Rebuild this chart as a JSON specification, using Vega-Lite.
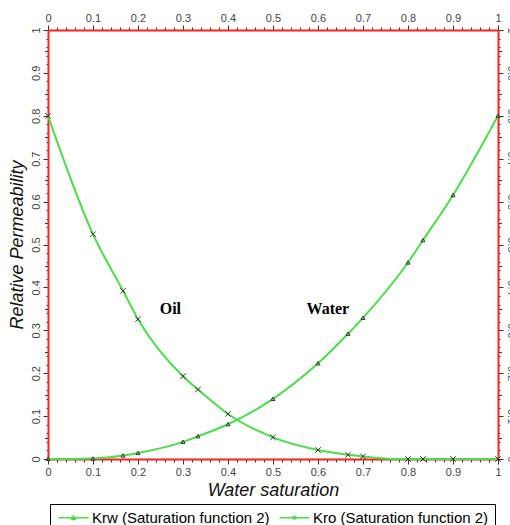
{
  "$schema": "https://vega.github.io/schema/vega-lite/v6.json",
  "width": 450,
  "height": 429,
  "autosize": {"type": "none"},
  "padding": {"left": 48, "top": 30, "right": 12, "bottom": 66},
  "background": "white",
  "datasets": {
    "kr": [
      {"sw": 0, "series": "Krw (Saturation function 2)", "kr": 0},
      {"sw": 0.05, "series": "Krw (Saturation function 2)", "kr": 0},
      {"sw": 0.1, "series": "Krw (Saturation function 2)", "kr": 0.001},
      {"sw": 0.1667, "series": "Krw (Saturation function 2)", "kr": 0.008},
      {"sw": 0.2, "series": "Krw (Saturation function 2)", "kr": 0.014},
      {"sw": 0.3, "series": "Krw (Saturation function 2)", "kr": 0.04},
      {"sw": 0.3333, "series": "Krw (Saturation function 2)", "kr": 0.053},
      {"sw": 0.4, "series": "Krw (Saturation function 2)", "kr": 0.081},
      {"sw": 0.5, "series": "Krw (Saturation function 2)", "kr": 0.14},
      {"sw": 0.6, "series": "Krw (Saturation function 2)", "kr": 0.223},
      {"sw": 0.6667, "series": "Krw (Saturation function 2)", "kr": 0.292},
      {"sw": 0.7, "series": "Krw (Saturation function 2)", "kr": 0.329},
      {"sw": 0.8, "series": "Krw (Saturation function 2)", "kr": 0.458},
      {"sw": 0.8333, "series": "Krw (Saturation function 2)", "kr": 0.51},
      {"sw": 0.9, "series": "Krw (Saturation function 2)", "kr": 0.615},
      {"sw": 1, "series": "Krw (Saturation function 2)", "kr": 0.8},
      {"sw": 0, "series": "Kro (Saturation function 2)", "kr": 0.8},
      {"sw": 0.1, "series": "Kro (Saturation function 2)", "kr": 0.524},
      {"sw": 0.1667, "series": "Kro (Saturation function 2)", "kr": 0.392},
      {"sw": 0.2, "series": "Kro (Saturation function 2)", "kr": 0.326},
      {"sw": 0.3, "series": "Kro (Saturation function 2)", "kr": 0.193},
      {"sw": 0.3333, "series": "Kro (Saturation function 2)", "kr": 0.162},
      {"sw": 0.4, "series": "Kro (Saturation function 2)", "kr": 0.105},
      {"sw": 0.5, "series": "Kro (Saturation function 2)", "kr": 0.0505},
      {"sw": 0.6, "series": "Kro (Saturation function 2)", "kr": 0.021},
      {"sw": 0.6667, "series": "Kro (Saturation function 2)", "kr": 0.01},
      {"sw": 0.7, "series": "Kro (Saturation function 2)", "kr": 0.006},
      {"sw": 0.775, "series": "Kro (Saturation function 2)", "kr": 0},
      {"sw": 0.8, "series": "Kro (Saturation function 2)", "kr": 0},
      {"sw": 0.8333, "series": "Kro (Saturation function 2)", "kr": 0},
      {"sw": 0.9, "series": "Kro (Saturation function 2)", "kr": 0},
      {"sw": 1, "series": "Kro (Saturation function 2)", "kr": 0}
    ],
    "notes": [
      {"sw": 0.272, "kr": 0.349, "label": "Oil"},
      {"sw": 0.622, "kr": 0.349, "label": "Water"}
    ]
  },
  "resolve": {"axis": {"x": "independent", "y": "independent"}},
  "layer": [
    {
      "data": {"name": "kr"},
      "mark": {"type": "line", "interpolate": "monotone", "strokeWidth": 2},
      "encoding": {
        "x": {
          "field": "sw", "type": "quantitative",
          "scale": {"domain": [0, 1], "nice": false, "zero": false},
          "axis": {
            "orient": "bottom",
            "title": "Water saturation",
            "values": [0,0.02,0.04,0.06,0.08,0.1,0.12,0.14,0.16,0.18,0.2,0.22,0.24,0.26,0.28,0.3,0.32,0.34,0.36,0.38,0.4,0.42,0.44,0.46,0.48,0.5,0.52,0.54,0.56,0.58,0.6,0.62,0.64,0.66,0.68,0.7,0.72,0.74,0.76,0.78,0.8,0.82,0.84,0.86,0.88,0.9,0.92,0.94,0.96,0.98,1],
            "tickSize": {"condition": {"test": "abs(datum.value*10-round(datum.value*10))<0.001", "value": 5}, "value": 3},
            "labelExpr": "abs(datum.value*10-round(datum.value*10))<0.001 ? format(datum.value, '~g') : ''",
            "titlePadding": 4
          }
        },
        "y": {
          "field": "kr", "type": "quantitative",
          "scale": {"domain": [0, 1], "nice": false},
          "axis": {
            "orient": "left",
            "title": "Relative Permeability",
            "labelAngle": -90,
            "values": [0,0.02,0.04,0.05,0.06,0.08,0.1,0.12,0.14,0.15,0.16,0.18,0.2,0.22,0.24,0.25,0.26,0.28,0.3,0.32,0.34,0.35,0.36,0.38,0.4,0.42,0.44,0.45,0.46,0.48,0.5,0.52,0.54,0.55,0.56,0.58,0.6,0.62,0.64,0.65,0.66,0.68,0.7,0.72,0.74,0.75,0.76,0.78,0.8,0.82,0.84,0.85,0.86,0.88,0.9,0.92,0.94,0.95,0.96,0.98,1],
            "tickSize": {"condition": [{"test": "abs(datum.value*10-round(datum.value*10))<0.001", "value": 5}, {"test": "abs(datum.value*20-round(datum.value*20))<0.001", "value": 3.5}], "value": 2},
            "labelExpr": "abs(datum.value*10-round(datum.value*10))<0.001 ? format(datum.value, '~g') : ''",
            "titlePadding": 4
          }
        },
        "color": {
          "field": "series", "type": "nominal",
          "scale": {"domain": ["Krw (Saturation function 2)", "Kro (Saturation function 2)"], "range": ["#4cdc4c", "#4cdc4c"]},
          "legend": {
            "orient": "none", "legendX": 2, "legendY": 474,
            "direction": "horizontal", "title": null,
            "strokeColor": "black", "padding": 6,
            "labelFont": "Liberation Sans", "labelFontSize": 15, "labelColor": "black", "labelLimit": 300,
            "symbolSize": 100, "symbolStrokeWidth": 1.5, "labelOffset": 21, "columnPadding": 6,
            "symbolType": "M-1,0H5",
            "encode": {
              "symbols": {
                "update": {
                  "shape": {"signal": "datum.value === 'Krw (Saturation function 2)' ? 'M-1,0H5M1.6,0.35L2,-0.35L2.4,0.35Z' : 'M-1,0H5M1.65,-0.35L2.35,0.35M1.65,0.35L2.35,-0.35'"},
                  "fill": {"value": "#333"}
                }
              }
            }
          }
        }
      }
    },
    {
      "data": {"name": "kr"},
      "transform": [{"filter": "datum.series === 'Krw (Saturation function 2)' && datum.sw !== 0.05"}],
      "mark": {"type": "point", "shape": "M-1,0.8L0,-0.9L1,0.8Z", "size": 16, "filled": false, "stroke": "#333", "strokeWidth": 1, "opacity": 1},
      "encoding": {
        "x": {
          "field": "sw", "type": "quantitative",
          "scale": {"domain": [0, 1], "nice": false, "zero": false},
          "axis": {
            "orient": "top",
            "title": null,
            "values": [0,0.02,0.04,0.06,0.08,0.1,0.12,0.14,0.16,0.18,0.2,0.22,0.24,0.26,0.28,0.3,0.32,0.34,0.36,0.38,0.4,0.42,0.44,0.46,0.48,0.5,0.52,0.54,0.56,0.58,0.6,0.62,0.64,0.66,0.68,0.7,0.72,0.74,0.76,0.78,0.8,0.82,0.84,0.86,0.88,0.9,0.92,0.94,0.96,0.98,1],
            "tickSize": {"condition": {"test": "abs(datum.value*10-round(datum.value*10))<0.001", "value": 5}, "value": 3},
            "labelExpr": "abs(datum.value*10-round(datum.value*10))<0.001 ? format(datum.value, '~g') : ''"
          }
        },
        "y": {
          "field": "kr", "type": "quantitative",
          "scale": {"domain": [0, 1], "nice": false},
          "axis": {
            "orient": "right",
            "title": null,
            "labelAngle": 90,
            "values": [0,0.02,0.04,0.05,0.06,0.08,0.1,0.12,0.14,0.15,0.16,0.18,0.2,0.22,0.24,0.25,0.26,0.28,0.3,0.32,0.34,0.35,0.36,0.38,0.4,0.42,0.44,0.45,0.46,0.48,0.5,0.52,0.54,0.55,0.56,0.58,0.6,0.62,0.64,0.65,0.66,0.68,0.7,0.72,0.74,0.75,0.76,0.78,0.8,0.82,0.84,0.85,0.86,0.88,0.9,0.92,0.94,0.95,0.96,0.98,1],
            "tickSize": {"condition": [{"test": "abs(datum.value*10-round(datum.value*10))<0.001", "value": 5}, {"test": "abs(datum.value*20-round(datum.value*20))<0.001", "value": 3.5}], "value": 2},
            "labelExpr": "abs(datum.value*10-round(datum.value*10))<0.001 ? format(datum.value, '~g') : ''",
            "labelColor": "#4a5a8a"
          }
        }
      }
    },
    {
      "data": {"name": "kr"},
      "transform": [{"filter": "datum.series === 'Kro (Saturation function 2)' && datum.sw !== 0.775"}],
      "mark": {"type": "point", "shape": "M-1,-1L1,1M-1,1L1,-1", "size": 30, "filled": false, "stroke": "#333", "strokeWidth": 1, "opacity": 1},
      "encoding": {
        "x": {"field": "sw", "type": "quantitative", "axis": null},
        "y": {"field": "kr", "type": "quantitative", "axis": null}
      }
    },
    {
      "data": {"name": "notes"},
      "mark": {"type": "text", "font": "Liberation Serif", "fontWeight": "bold", "fontSize": 16, "align": "center", "baseline": "middle", "color": "black"},
      "encoding": {
        "x": {"field": "sw", "type": "quantitative", "axis": null},
        "y": {"field": "kr", "type": "quantitative", "axis": null},
        "text": {"field": "label"}
      }
    }
  ],
  "config": {
    "view": {"stroke": null},
    "axis": {
      "grid": false,
      "domainColor": "#ff2020",
      "domainWidth": 2,
      "tickColor": "#333333",
      "tickWidth": 1,
      "labelFont": "Liberation Sans",
      "labelFontSize": 11,
      "labelColor": "#444444",
      "labelFlush": false,
      "labelOverlap": false,
      "labelPadding": 2,
      "titleFont": "Liberation Sans",
      "titleFontSize": 18,
      "titleFontStyle": "italic",
      "titleFontWeight": "normal",
      "titleColor": "#111111",
      "zindex": 1
    }
  }
}
